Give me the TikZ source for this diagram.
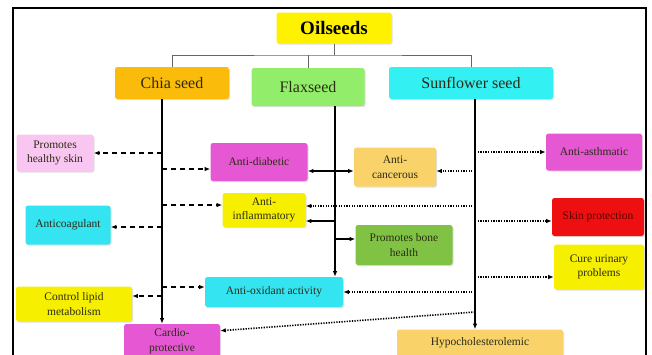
\documentclass[tikz,border=0pt]{standalone}
\usepackage{fontspec}
\setmainfont{Liberation Serif}
\usetikzlibrary{arrows.meta,positioning,shadows}

\definecolor{txt}{HTML}{2B2B14}
\definecolor{oilyel}{HTML}{FFF200}
\definecolor{chiaor}{HTML}{FBBB0A}
\definecolor{flaxgr}{HTML}{92EE6A}
\definecolor{suncy}{HTML}{33F0F2}
\definecolor{lpink}{HTML}{F8C6F0}
\definecolor{magen}{HTML}{E657D4}
\definecolor{lorange}{HTML}{F9D36A}
\definecolor{yel}{HTML}{F6F000}
\definecolor{cyan2}{HTML}{34E4F0}
\definecolor{redbox}{HTML}{EE1010}
\definecolor{bonegr}{HTML}{80C244}

\begin{document}
\begin{tikzpicture}[
    x = 1pt, y = -1pt, % pixel units, y runs down
    > = {Latex[length=5.5pt,width=4.5pt]}, % arrow head style
    semithick % line style
    ]

    \tikzset{box/.style={
    rounded corners = 2.5pt,
    text = txt,
    align = center,
    inner sep = 1pt,
    font = \fontsize{11.5}{14.5}\selectfont,
    drop shadow = {shadow xshift=1pt, shadow yshift=-1.2pt, opacity=0.25}
    }}
    \tikzset{seed/.style={box, font=\fontsize{16}{18}\selectfont}}
    \tikzset{trunk/.style={line width=1.6pt}}
    \tikzset{dsh/.style={->, line width=1.6pt, dash pattern=on 5pt off 4pt}}
    \tikzset{dtt/.style={->, line width=1.6pt, dash pattern=on 1.3pt off 1.3pt}}
    \tikzset{sld/.style={->, line width=1.6pt}}

    \useasboundingbox (0,0) rectangle (652,354);
    \clip (0,0) rectangle (652,354);
    \draw[line width=2.5pt] (13,8) rectangle (646,370);

    % top level
    \node[seed, fill=oilyel, minimum width=115pt, minimum height=31pt, font=\fontsize{19}{21}\selectfont\bfseries, text=black] (oil) at (334,28) {Oilseeds};
    \node[seed, fill=chiaor, minimum width=114pt, minimum height=32pt] (chia) at (172,83) {Chia seed};
    \node[seed, fill=flaxgr, minimum width=113pt, minimum height=38pt] (flax) at (308,87) {Flaxseed};
    \node[seed, fill=suncy, minimum width=164pt, minimum height=32pt] (sun) at (471,83) {Sunflower seed};

    % effects
    \node[box, fill=lpink, minimum width=77pt, minimum height=37pt] (hskin) at (55,153) {Promotes\\healthy skin};
    \node[box, fill=magen, minimum width=97pt, minimum height=38pt] (diab) at (259,162) {Anti-diabetic};
    \node[box, fill=lorange, minimum width=82pt, minimum height=39pt] (canc) at (395,167) {Anti-\\cancerous};
    \node[box, fill=magen, minimum width=96pt, minimum height=37pt] (asth) at (594,152) {Anti-asthmatic};
    \node[box, fill=yel, minimum width=83pt, minimum height=34pt] (infl) at (264,210) {Anti-\\inflammatory};
    \node[box, fill=cyan2, minimum width=85pt, minimum height=39pt] (coag) at (68,225) {Anticoagulant};
    \node[box, fill=redbox, minimum width=92pt, minimum height=38pt, text=black!65!red] (skinp) at (598,217) {Skin protection};
    \node[box, fill=bonegr, minimum width=97pt, minimum height=40pt] (bone) at (404,245) {Promotes bone\\health};
    \node[box, fill=yel, minimum width=90pt, minimum height=45pt] (urin) at (599,267) {Cure urinary\\problems};
    \node[box, fill=cyan2, minimum width=138pt, minimum height=30pt] (oxid) at (274,292) {Anti-oxidant activity};
    \node[box, fill=yel, minimum width=116pt, minimum height=35pt] (lipid) at (74,304) {Control lipid\\metabolism};
    \node[box, fill=magen, minimum width=96pt, minimum height=34pt] (cardio) at (172,341) {Cardio-\\protective};
    \node[box, fill=lorange, minimum width=166pt, minimum height=27pt] (hypo) at (480,343) {Hypocholesterolemic};

    % bracket
    \coordinate (br) at (334,55);
    \draw[black!60, thick] (oil.south) -- (br);
    \draw[black!60, thick] (chia.north) |- (br) -| (sun.north);
    \draw[black!60, thick] (flax.north) -- (flax.north |- br);

    % trunks
    \coordinate (ct) at (162,99);
    \coordinate (ft) at (335,106);
    \coordinate (st) at (475,99);
    \draw[trunk, ->] (ct) -- (ct |- cardio.north);
    \draw[trunk, ->] (ft) -- (ft |- oxid.north);
    \draw[trunk, ->] (st) -- (st |- hypo.north);

    % chia seed
    \coordinate (c1) at (162,153);
    \coordinate (c2) at (162,169);
    \coordinate (c3) at (162,205);
    \coordinate (c4) at (162,227);
    \coordinate (c5) at (162,287);
    \coordinate (c6) at (162,296);
    \draw[dsh] (c1) -- (c1 -| hskin.east);
    \draw[dsh] (c2) -- (c2 -| diab.west);
    \draw[dsh] (c3) -- (c3 -| infl.west);
    \draw[dsh] (c4) -- (c4 -| coag.east);
    \draw[dsh] (c5) -- (c5 -| oxid.west);
    \draw[dsh] (c6) -- (c6 -| lipid.east);

    % flaxseed
    \coordinate (f1) at (335,171);
    \coordinate (f2) at (335,221);
    \coordinate (f3) at (335,239);
    \draw[sld] (f1) -- (f1 -| diab.east);
    \draw[sld] (f1) -- (f1 -| canc.west);
    \draw[sld] (f2) -- (f2 -| infl.east);
    \draw[sld] (f3) -- (f3 -| bone.west);

    % sunflower seed
    \coordinate (s1) at (475,152);
    \coordinate (s2) at (475,171);
    \coordinate (s3) at (475,206);
    \coordinate (s4) at (475,221);
    \coordinate (s5) at (475,277);
    \coordinate (s6) at (475,292);
    \coordinate (s7) at (475,312);
    \draw[dtt] (s1) -- (s1 -| asth.west);
    \draw[dtt] (s2) -- (s2 -| canc.east);
    \draw[dtt] (s3) -- (s3 -| infl.east);
    \draw[dtt] (s4) -- (s4 -| skinp.west);
    \draw[dtt] (s5) -- (s5 -| urin.west);
    \draw[dtt] (s6) -- (s6 -| oxid.east);
    \draw[dtt] (s7) -- (cardio.12);
\end{tikzpicture}
\end{document}
